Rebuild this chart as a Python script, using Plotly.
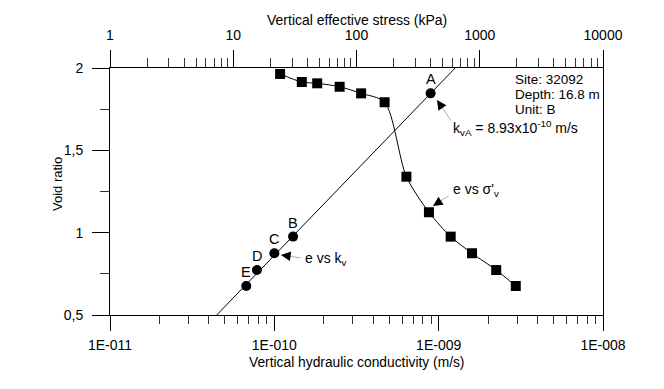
import math
import plotly.graph_objects as go

# e vs vertical effective stress (oedometer curve)
stress_kpa = [24, 36, 48, 73, 109, 169, 254, 387, 581, 865, 1360, 1960]
void_stress = [1.964, 1.915, 1.907, 1.886, 1.846, 1.792, 1.340, 1.124, 0.976, 0.875, 0.773, 0.676]

# e vs vertical hydraulic conductivity
k_labels = ["A", "B", "C", "D", "E"]
k_vals = [8.93e-10, 1.30e-10, 1.00e-10, 7.84e-11, 6.75e-11]
void_k = [1.846, 0.976, 0.875, 0.773, 0.676]

# fitted e - log(k) line
fit_k = [4.46e-11, 1.26e-9]
fit_e = [0.5, 2.0]

top_ticks = [1, 10, 100, 1000, 10000]
bottom_ticks = [1e-11, 1e-10, 1e-9, 1e-8]
bottom_text = ["1E-011", "1E-010", "1E-009", "1E-008"]
y_ticks = [0.5, 1, 1.5, 2]
y_text = ["0,5", "1", "1,5", "2"]

FONT = "Liberation Sans, Arial, sans-serif"

# plot area in window pixels (page body adds an 8px offset)
L, R, T, B = 110, 603, 68, 315
OFF = 8
W, H = 664 - OFF, 389 - OFF


def px(x):
    return (x - L) / (R - L)


def py(y):
    return (B - y) / (B - T)


fig = go.Figure()

fig.add_trace(go.Scatter(x=fit_k, y=fit_e, mode="lines",
                         line=dict(color="black", width=1), xaxis="x", yaxis="y"))
fig.add_trace(go.Scatter(x=k_vals, y=void_k, mode="markers",
                         marker=dict(symbol="circle", size=10, color="black"),
                         xaxis="x", yaxis="y"))
fig.add_trace(go.Scatter(x=stress_kpa, y=void_stress, mode="lines+markers",
                         line=dict(color="black", width=1, shape="spline", smoothing=0.8),
                         marker=dict(symbol="square", size=10, color="black"),
                         xaxis="x2", yaxis="y"))

minor_top = [m * 10 ** d for d in range(0, 4) for m in range(2, 10)]
minor_bottom = [m * 10.0 ** d for d in range(-11, -8) for m in range(2, 10)]

anns = []
# point letters
for lab, k, e in zip(k_labels, k_vals, void_k):
    anns.append(dict(x=math.log10(k), y=e, xref="x", yref="y", text=lab, showarrow=False,
                     yshift=14, xanchor="center", yanchor="middle",
                     font=dict(size=14.5, family=FONT, color="black")))


def arrow(head, tail, text, text_pos):
    hx, hy = head
    tx, ty = tail
    # thin gray shaft
    anns.append(dict(x=px(hx), y=py(hy), xref="paper", yref="paper", ax=tx - hx, ay=ty - hy,
                     showarrow=True, arrowhead=0, arrowwidth=0.8, arrowcolor="#9a9a9a", text=""))
    # black head
    d = ((tx - hx) ** 2 + (ty - hy) ** 2) ** 0.5
    anns.append(dict(x=px(hx), y=py(hy), xref="paper", yref="paper",
                     ax=(tx - hx) / d * 9, ay=(ty - hy) / d * 9,
                     showarrow=True, arrowhead=2, arrowsize=1.6, arrowwidth=1.2,
                     arrowcolor="black", text=""))
    anns.append(dict(x=px(text_pos[0]), y=py(text_pos[1]), xref="paper", yref="paper",
                     text=text, showarrow=False, xanchor="left", yanchor="middle",
                     font=dict(size=14, family=FONT, color="black")))


arrow((437, 100), (452, 122), "k<sub>vA</sub> = 8.93x10<sup>-10</sup> m/s", (451, 128))
arrow((433, 206), (450, 195), "e vs σ'<sub>v</sub>", (451, 190))
arrow((281, 255), (302, 258), "e vs k<sub>v</sub>", (303, 259))

for i, line in enumerate(["Site: 32092", "Depth: 16.8 m", "Unit: B"]):
    anns.append(dict(x=px(513), y=py(79 + i * 15.3), xref="paper", yref="paper", text=line,
                     showarrow=False, xanchor="left", yanchor="middle",
                     font=dict(size=13.5, family=FONT, color="black")))

# axis titles
anns.append(dict(x=px(357), y=py(20), xref="paper", yref="paper",
                 text="Vertical effective stress (kPa)", showarrow=False,
                 xanchor="center", yanchor="middle",
                 font=dict(size=14, family=FONT, color="black")))
anns.append(dict(x=px(356), y=py(362), xref="paper", yref="paper",
                 text="Vertical hydraulic conductivity (m/s)", showarrow=False,
                 xanchor="center", yanchor="middle",
                 font=dict(size=13.8, family=FONT, color="black")))
anns.append(dict(x=px(57), y=py(184), xref="paper", yref="paper",
                 text="Void ratio", showarrow=False, textangle=-90,
                 xanchor="center", yanchor="middle",
                 font=dict(size=13, family=FONT, color="black")))

axis_common = dict(showgrid=False, zeroline=False, showline=True, linecolor="black",
                   linewidth=1, ticks="outside", tickcolor="black", tickwidth=1,
                   automargin=False,
                   tickfont=dict(size=14, family=FONT, color="black"))

fig.update_layout(
    width=W, height=H,
    margin=dict(l=L - OFF, r=W - (R - OFF), t=T - OFF, b=H - (B - OFF)),
    paper_bgcolor="white", plot_bgcolor="white",
    showlegend=False,
    annotations=anns,
    xaxis=dict(type="log", range=[-11, -8], tickmode="array", tickvals=bottom_ticks,
               ticktext=bottom_text, ticklen=15, anchor="y", ticklabelstandoff=2,
               minor=dict(tickmode="array", tickvals=minor_bottom, ticks="outside",
                          ticklen=8, tickcolor="#333", showgrid=False),
               **axis_common),
    xaxis2=dict(type="log", range=[0, 4], overlaying="x", side="top", anchor="y",
                tickmode="array", tickvals=top_ticks, ticktext=[str(t) for t in top_ticks],
                ticklen=17, ticklabelstandoff=4,
                minor=dict(tickmode="array", tickvals=minor_top, ticks="outside",
                           ticklen=9, tickcolor="#333", showgrid=False),
                **axis_common),
    yaxis=dict(range=[0.5, 2], tickmode="array", tickvals=y_ticks, ticktext=y_text,
               ticklen=17, mirror=True, ticklabelstandoff=6,
               minor=dict(tickmode="array", tickvals=[0.75, 1.25, 1.75], ticks="outside",
                          ticklen=9, tickcolor="#333", showgrid=False),
               **axis_common),
)

fig.write_html("out.html")
